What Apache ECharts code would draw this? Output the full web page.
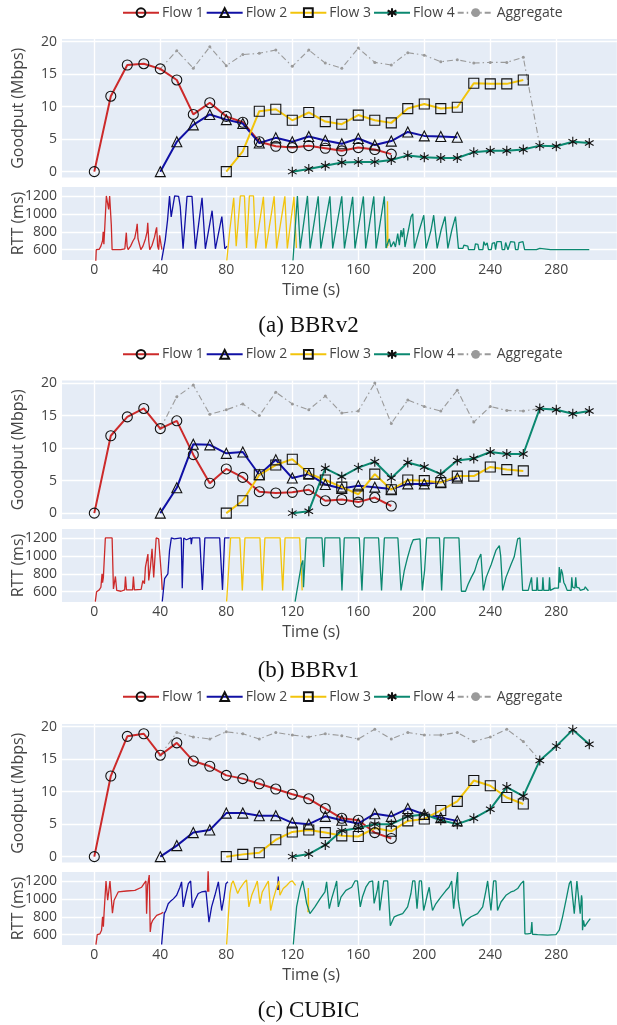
<!DOCTYPE html>
<html><head><meta charset="utf-8">
<script src="https://cdn.jsdelivr.net/npm/echarts@6/dist/echarts.min.js"></script>
<style>html,body{margin:0;padding:0;background:#fff}#c{width:617px;height:1025px}</style>
</head><body><div id="c"></div>
<script>
// ---------------- DATA ----------------
const timeTicks = [0,40,80,120,160,200,240,280];
const goodputTicks = [0,5,10,15,20];
const rttTicks = [600,800,1000,1200];
const gpTimes = [0,10,20,30,40,50,60,70,80,90,100,110,120,130,140,150,160,170,180,190,200,210,220,230,240,250,260,270,280,290,300];
const flowStart = {f1:0, f2:40, f3:80, f4:120, agg:40};
const captions = ['(a) BBRv2','(b) BBRv1','(c) CUBIC'];

// Panel (a) BBRv2 goodput (Mbps), one value every 10 s from flow start
const gpA_f1 = [0,11.6,16.4,16.6,15.8,14.1,8.8,10.6,8.5,7.6,4.6,3.9,3.7,4.0,3.6,3.2,3.7,3.4,2.7];
const gpA_f2 = [0,4.6,7.2,8.8,8.0,7.4,4.4,5.2,4.6,5.4,4.8,4.3,5.1,4.1,4.7,6.1,5.5,5.4,5.3];
const gpA_f3 = [0,3.1,9.3,9.6,7.9,9.1,7.7,7.3,8.7,7.9,7.5,9.7,10.4,9.7,9.9,13.6,13.5,13.5,14.1];
const gpA_f4 = [0,0.4,0.9,1.4,1.5,1.5,1.8,2.5,2.2,2.1,2.1,3.0,3.2,3.2,3.4,4.0,3.9,4.6,4.4];
const gpA_agg = [15.8,18.6,15.9,19.2,16.3,18.0,18.2,18.7,16.2,18.7,16.7,15.9,19.0,16.8,16.4,18.3,17.9,16.9,17.2,16.7,16.8,16.8,17.6,4.0,3.9,4.6,4.4];

// Panel (b) BBRv1 goodput
const gpB_f1 = [0,11.9,14.8,16.1,13.0,14.2,9.0,4.6,6.8,5.5,3.3,3.1,3.2,3.6,1.9,2.1,1.7,2.4,1.1];
const gpB_f2 = [0,3.9,10.6,10.5,9.2,9.4,5.9,8.2,5.4,6.0,4.4,3.8,4.2,4.0,3.7,4.5,4.5,4.8,5.4];
const gpB_f3 = [0,1.9,5.9,7.4,8.3,6.1,5.1,4.0,2.9,6.0,3.6,5.1,5.0,4.7,5.7,5.7,7.1,6.7,6.5];
const gpB_f4 = [0,0.3,6.9,5.6,7.0,7.9,5.4,7.8,7.1,6.0,8.1,8.4,9.4,9.1,9.1,16.1,15.9,15.3,15.7];
const gpB_agg = [13.0,17.9,19.7,15.2,15.9,16.8,15.0,18.6,16.8,15.9,18.0,15.4,15.7,20.0,13.8,17.4,16.4,15.7,18.9,14.0,16.4,15.8,15.7,16.1,15.9,15.3,15.7];

// Panel (c) CUBIC goodput
const gpC_f1 = [0,12.4,18.5,18.9,15.6,17.5,14.7,13.9,12.5,12.0,11.2,10.4,9.6,8.9,7.4,5.9,5.6,3.7,2.8];
const gpC_f2 = [0,1.7,3.7,4.1,6.7,6.7,6.3,6.3,5.2,5.0,6.2,5.6,5.1,6.6,6.2,7.4,6.5,6.0,5.5];
const gpC_f3 = [0,0.35,0.6,2.6,3.8,4.1,3.7,3.2,3.1,4.4,3.9,5.5,5.8,7.1,8.5,11.7,10.9,9.1,8.1];
const gpC_f4 = [0,0.4,1.8,4.0,4.4,5.0,5.0,6.2,6.5,5.6,5.0,5.9,7.3,10.7,9.3,14.8,17.0,19.5,17.3];
const gpC_agg = [15.6,19.1,18.4,18.1,19.2,18.9,18.1,19.1,18.7,18.4,18.9,18.6,18.1,19.6,18.1,19.1,18.7,18.7,19.1,17.7,18.4,19.6,17.7,14.8,17.0,19.5,17.3];

// RTT traces [time s, rtt ms]
const rttA_f1 = [[0.9,470],[1.2,600],[3,605],[4,640],[5,700],[5.4,800],[5.8,660],[6.3,830],[7.3,1200],[8.3,1200],[8.7,1050],[9.3,1200],[9.9,1200],[10.3,880],[10.8,600],[13,600],[16,600],[18.5,610],[19.4,790],[19.9,640],[20.5,600],[22,640],[23.5,700],[24.5,730],[25.5,820],[26,890],[26.5,720],[27.5,650],[28.2,600],[29.5,640],[31,720],[32,800],[32.4,900],[33,700],[33.6,600],[35,650],[36.5,740],[37.4,820],[37.8,850],[38.4,640],[39,600],[39.6,760],[40.5,650],[41,600]];
const rttA_f2 = [[40.8,480],[43,707],[44.4,930],[45.6,1200],[46.6,967],[48.7,1200],[51.1,1195],[52.1,1080],[53.8,610],[56.2,1195],[59.2,1195],[61.3,610],[65.3,1180],[67.3,610],[71.4,1035],[73.4,610],[77.3,970],[79.1,610],[80.5,640]];
const rttA_f3 = [[80.3,480],[82,800],[84.5,1180],[86,640],[88.5,1200],[91,1200],[92.3,620],[94,1200],[96.5,1200],[97.8,615],[102.5,1190],[104,615],[109,1195],[110.5,615],[115.5,1195],[117,615],[121,1190],[122.5,620],[177.2,'-'],[177.4,620],[177.7,1140],[178,640]];
const rttA_f4 = [[120.4,480],[123.1,1200],[124.8,615],[129.2,1200],[130.8,615],[135.7,1195],[137.3,615],[142.8,1195],[144.5,615],[150,1195],[151.6,615],[156.6,1190],[158,615],[163.1,1195],[164.5,615],[169.4,1195],[170.8,615],[175.8,1195],[176.8,620],[177.8,630],[178.8,720],[179.8,630],[181.5,690],[182.5,630],[183.9,780],[184.9,650],[185.9,820],[186.6,740],[187.5,840],[188.3,630],[190.4,820],[192,970],[193,1000],[194,615],[197,820],[199.7,985],[201.1,615],[204.1,820],[205.7,985],[207.8,615],[210.2,820],[212.6,970],[214.3,615],[216.7,820],[218.9,970],[220.7,615],[223.4,615],[224,650],[226.4,640],[226.8,600],[230.4,600],[231,665],[232.5,660],[233.1,600],[235.5,600],[236.1,690],[237,650],[238.1,675],[238.9,600],[240.6,600],[241.2,670],[242.6,680],[243.2,600],[244,690],[246.6,690],[247.2,600],[248.7,600],[249.3,680],[250.7,600],[251.5,600],[252.3,690],[254.7,685],[255.3,600],[256.8,600],[257.4,680],[259.8,690],[260.8,600],[268,600],[270,615],[271,600],[276.5,600],[277,612],[278,600],[296.5,600],[297.2,620],[298,600],[300,600]];

const rttB_f1 = [[0.6,490],[1.4,600],[3,620],[4,650],[4.7,800],[5,700],[5.5,760],[6.7,1200],[10.8,1200],[11.6,630],[12.3,620],[12.8,770],[13.6,615],[16.2,605],[18.4,620],[18.9,770],[19.5,620],[23.2,620],[23.7,770],[24.3,620],[28.4,625],[29.4,725],[30.4,690],[31,875],[32.5,1020],[33,725],[34,875],[35,1080],[36,760],[37.5,1200],[39,1190],[40.6,800],[41.2,620]];
const rttB_f2 = [[41.2,490],[42.6,745],[43.4,730],[44.6,800],[45.6,1060],[46.7,1200],[48.5,1190],[49,1170],[49.5,1200],[52.7,1200],[53.3,640],[54.2,1200],[55.8,1180],[56.5,1200],[58.5,1200],[58.8,1130],[59.3,1200],[63.9,1200],[65.5,620],[67,1200],[76,1200],[77.7,620],[79,1200],[82,1200]];
const rttB_f3 = [[80.2,490],[82.6,1200],[88.2,1200],[89.7,615],[91.3,1200],[100.4,1200],[101.8,615],[103.4,1200],[112.6,1200],[114.2,615],[115.6,1200],[124.5,1200],[126,615]];
const rttB_f4 = [[121.7,490],[125.5,900],[126.4,950],[126.8,650],[128.4,1200],[138,1200],[139,875],[139.8,1200],[148.8,1200],[150.1,615],[151.5,1200],[160.6,1200],[162.2,615],[163.6,1200],[172.3,1200],[174.1,615],[175.8,1200],[184,1200],[185.9,615],[187.9,837],[189.9,985],[191.9,1115],[193.3,1180],[197.4,1190],[198.8,615],[200.2,840],[201.4,1200],[209.2,1200],[210.5,615],[212,1200],[221,1200],[222.5,605],[225,605],[226.5,680],[228.5,760],[230.5,830],[232.5,950],[234.3,1020],[235.8,615],[237.5,760],[240.5,900],[243.4,1060],[245.5,1115],[246.3,1000],[247.5,615],[249.5,760],[252.5,900],[254.5,990],[256.6,1190],[258,1200],[259.6,615],[263,615],[265,760],[265.5,615],[268,615],[268.4,760],[268.9,615],[271.5,615],[271.9,760],[272.4,615],[275.5,615],[275.9,760],[276.4,615],[279,640],[281.3,640],[281.8,875],[282.3,700],[283,850],[283.8,800],[284.6,700],[285.5,670],[286.6,615],[289,615],[289.4,760],[289.9,650],[291.3,640],[291.8,760],[292.3,650],[294,640],[294.5,615],[297,630],[297.6,655],[298.5,630],[299.5,610]];

const rttC_f1 = [[1,490],[1.8,600],[3.4,610],[4.4,650],[5,800],[5.5,690],[5.9,835],[7.1,1200],[8.1,985],[9.5,1200],[10.5,1200],[11,840],[12,985],[14.5,1077],[19.6,1088],[24.6,1095],[28.7,1130],[31.3,1200],[31.7,835],[32.3,1150],[33.3,1265],[33.9,630],[34.5,720],[35.4,760],[37.8,815],[40.4,835],[41.8,850],[68.4,'-'],[68.6,1080],[69,1320],[69.4,1080]];
const rttC_f2 = [[40.8,490],[42.4,835],[43.4,870],[44.8,945],[46,970],[47.9,1000],[49.9,1040],[51.9,1130],[52.9,1190],[53.9,910],[55.6,1060],[57,1170],[58.4,1200],[59.4,900],[61,985],[63,1060],[65,1077],[67.7,1085],[68.7,1090],[69.5,740],[71.1,910],[73.1,1040],[75.2,1190],[76.2,1200],[77.2,870],[78.5,1000],[79.8,1170],[81,1190],[111,'-'],[111.2,1100],[111.5,1250],[111.8,1100]];
const rttC_f3 = [[80.2,490],[81.2,800],[82.2,1060],[83.2,1170],[84.2,1200],[85.3,1190],[86.9,1060],[88.3,1115],[90.7,1180],[92.3,1210],[93.7,910],[95.4,1040],[97.4,1130],[98.8,1200],[100.4,945],[101.8,1077],[104,1150],[105.5,1200],[106.9,870],[108.5,1000],[110.5,1125],[111.9,1200],[112.5,1040],[114.5,1115],[116.6,1150],[118.6,1190],[120,1200],[122,1150],[129.3,'-'],[129.5,850],[129.7,1120],[129.9,850]];
const rttC_f4 = [[120.6,490],[122.6,910],[124.6,1095],[126.3,1200],[127.7,1060],[128.7,950],[130.7,835],[131.7,815],[133.7,910],[136.8,1000],[139.8,1077],[140.8,1190],[141.8,1200],[142.4,890],[143.8,1000],[145.9,1130],[146.9,1200],[147.9,910],[149.5,1020],[152.5,1095],[156,1130],[158,1200],[159.5,1200],[161.2,910],[162.5,1020],[164.6,1130],[166.7,1190],[168.7,1200],[169.6,950],[171.5,1100],[172.3,1200],[173,870],[175.4,1200],[177.8,1200],[179.4,700],[181.8,800],[183.8,815],[186.9,835],[189.9,910],[191.9,1060],[193,1200],[194.3,1200],[195.6,890],[197,1200],[198.3,1200],[199.6,870],[200.6,945],[202,1060],[203,1130],[204,985],[205,870],[207,945],[210,1020],[213,1090],[215,1130],[216.6,1200],[217.8,890],[219,1100],[220.2,1300],[220.5,1000],[221.2,910],[223.2,695],[225.3,760],[228.3,800],[232.3,835],[235.4,910],[237.4,1095],[238.4,1200],[239.4,1200],[240.4,870],[242,1200],[243.4,1200],[244.4,870],[246.5,965],[249.5,1040],[252.5,1077],[254.5,1090],[256.6,1115],[258.6,1170],[260.2,1200],[261,610],[262.6,610],[264.6,615],[265.2,740],[265.6,605],[268.7,600],[274.7,595],[279.8,600],[281.8,650],[283.8,800],[285.9,985],[287.9,1170],[288.9,1200],[290.9,835],[292.5,1200],[293.5,1200],[294.5,835],[295.3,1040],[295.6,1000],[295.9,650],[296.5,760],[297.2,690],[299,740],[300.6,780]];

// ---------------- STYLE / LAYOUT ----------------
const COL = {f1:'#cc2a2a', f2:'#1010a5', f3:'#f2c40c', f4:'#0b8870', agg:'#9a9a9a'};
const NAMES = {f1:'Flow 1', f2:'Flow 2', f3:'Flow 3', f4:'Flow 4', agg:'Aggregate'};
const SYM = {f1:'circle', f2:'triangle', f3:'rect', f4:'path://M0,-5L0,5M-4.33,-2.5L4.33,2.5M-4.33,2.5L4.33,-2.5'};
const SYMSIZE = {f1:10, f2:10, f3:10, f4:10};
const FONT = 'Open Sans';
const TXT = '#444';
const BG = '#E5ECF6';
// x axis runs from -40 (hidden, outside the plot background) to 316.8
const X = {min:-40, max:316.8, gridLeft:28.3, plotLeft:62, right:0};
const L = {gpH:138.5, rttH:73};
const panelTops = [
  {gp:39, rtt:187, legend:5.7, caption:326},
  {gp:380.5, rtt:529, legend:347.3, caption:671},
  {gp:724, rtt:872, legend:689.7, caption:1011}
];
const panels = [
  {gp:{f1:gpA_f1,f2:gpA_f2,f3:gpA_f3,f4:gpA_f4,agg:gpA_agg}, rtt:{f1:rttA_f1,f2:rttA_f2,f3:rttA_f3,f4:rttA_f4}},
  {gp:{f1:gpB_f1,f2:gpB_f2,f3:gpB_f3,f4:gpB_f4,agg:gpB_agg}, rtt:{f1:rttB_f1,f2:rttB_f2,f3:rttB_f3,f4:rttB_f4}},
  {gp:{f1:gpC_f1,f2:gpC_f2,f3:gpC_f3,f4:gpC_f4,agg:gpC_agg}, rtt:{f1:rttC_f1,f2:rttC_f2,f3:rttC_f3,f4:rttC_f4}}
];

function withTimes(key, vals){
  const s = gpTimes.indexOf(flowStart[key]);
  return vals.map((v,i)=>[gpTimes[s+i], v]);
}

const grid=[], xAxis=[], yAxis=[], series=[], legend=[], graphic=[];
const splitLine = {show:true, lineStyle:{color:'#ffffff', width:1.4}};
const yOffset = -(X.plotLeft - X.gridLeft);

panels.forEach((p, pi)=>{
  const t = panelTops[pi];
  const gG = grid.length;
  grid.push({left:X.gridLeft, right:X.right, top:t.gp, height:L.gpH, show:false, containLabel:false, outerBoundsMode:'none'});
  grid.push({left:X.gridLeft, right:X.right, top:t.rtt, height:L.rttH, show:false, containLabel:false, outerBoundsMode:'none'});
  graphic.push({type:'rect', z:-100, silent:true, shape:{x:X.plotLeft, y:t.gp, width:617-X.plotLeft, height:L.gpH}, style:{fill:BG}});
  graphic.push({type:'rect', z:-100, silent:true, shape:{x:X.plotLeft, y:t.rtt, width:617-X.plotLeft, height:L.rttH}, style:{fill:BG}});
  [0,1].forEach(k=>{
    xAxis.push({type:'value', gridIndex:gG+k, min:X.min, max:X.max, interval:40,
      axisLine:{show:false}, axisTick:{show:false},
      splitLine: splitLine,
      axisLabel:{show:k===1, color:TXT, fontSize:14, fontFamily:FONT, margin:3,
        formatter: v => timeTicks.includes(v) ? String(v) : ''},
      name: k===1 ? 'Time (s)' : '', nameLocation:'middle', nameGap:22, nameMoveOverlap:false,
      nameTextStyle:{color:TXT, fontSize:16, fontFamily:FONT, padding:[0,23,0,0]}});
  });
  yAxis.push({type:'value', gridIndex:gG, min:-0.9, max:20.4, offset:yOffset,
    axisLine:{show:false}, axisTick:{show:false, customValues:goodputTicks}, splitLine: splitLine,
    axisLabel:{customValues:goodputTicks, color:TXT, fontSize:14, fontFamily:FONT, margin:5},
    name:'Goodput (Mbps)', nameLocation:'middle', nameGap:36, nameMoveOverlap:false,
    nameTextStyle:{color:TXT, fontSize:16, fontFamily:FONT}});
  yAxis.push({type:'value', gridIndex:gG+1, min:485, max:1300, offset:yOffset,
    axisLine:{show:false}, axisTick:{show:false, customValues:rttTicks}, splitLine: splitLine,
    axisLabel:{customValues:rttTicks, color:TXT, fontSize:14, fontFamily:FONT, margin:5, formatter: v => String(v)},
    name:'RTT (ms)', nameLocation:'middle', nameGap:36, nameMoveOverlap:false,
    nameTextStyle:{color:TXT, fontSize:16, fontFamily:FONT}});

  series.push({type:'line', name:NAMES.agg, xAxisIndex:gG, yAxisIndex:gG, data:withTimes('agg', p.gp.agg),
    symbol:'circle', symbolSize:3, showSymbol:true, itemStyle:{color:COL.agg},
    lineStyle:{color:COL.agg, width:1.1, type:[6,3,1.5,3]}, animation:false, z:2});
  ['f1','f2','f3','f4'].forEach(key=>{
    series.push({type:'line', name:NAMES[key], xAxisIndex:gG, yAxisIndex:gG, data:withTimes(key, p.gp[key]),
      symbol:SYM[key], symbolSize:SYMSIZE[key], symbolKeepAspect:true, showSymbol:true,
      itemStyle:{color: key==='f4' ? '#111' : 'rgba(0,0,0,0)', borderColor:'#111', borderWidth:1.1},
      lineStyle:{color:COL[key], width:2}, animation:false, z:3});
  });
  ['f1','f2','f3','f4'].forEach(key=>{
    series.push({type:'line', name:'RTT '+NAMES[key], xAxisIndex:gG+1, yAxisIndex:gG+1, data:p.rtt[key],
      symbol:'none', lineStyle:{color:COL[key], width:1.3}, connectNulls:false, clip:true, animation:false, z:3});
  });

  legend.push({top:t.legend, left:122, padding:0, data:['Flow 1','Flow 2','Flow 3','Flow 4','Aggregate'],
    itemWidth:36, itemHeight:11, itemGap:2, selectedMode:false,
    textStyle:{color:TXT, fontSize:14, fontFamily:FONT, padding:[0,0,0,-2]}});
  graphic.push({type:'text', left:'center', top:t.caption-12,
    style:{text:captions[pi], fill:'#111', font:'23px "Liberation Serif"'}});
});

const chart = echarts.init(document.getElementById('c'), null, {renderer:'canvas'});
chart.setOption({animation:false, backgroundColor:'#fff', grid, xAxis, yAxis, series, legend, graphic});
</script>
</body></html>
